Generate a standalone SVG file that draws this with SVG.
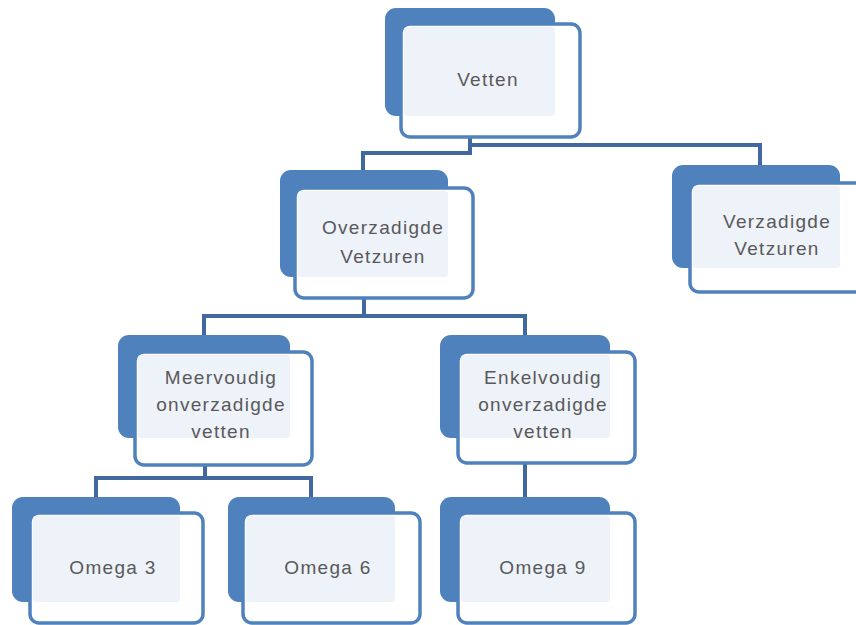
<svg xmlns="http://www.w3.org/2000/svg" width="856" height="625" viewBox="0 0 856 625">
<style>
.back{fill:#4F81BD;}
.front{fill:#FFFFFF;stroke:#4F81BD;stroke-width:3.5;}
.light{fill:#EEF2F9;}
.lbl{font-family:"Liberation Sans",Arial,sans-serif;font-size:19px;letter-spacing:1.3px;fill:#595959;text-anchor:middle;}
.conn{fill:none;stroke:#41699F;stroke-width:4;}
</style>
<rect width="856" height="625" fill="#FFFFFF"/>
<g id="connectors">
<path class="conn" d="M470 137 V153 H363 V170"/>
<path class="conn" d="M470 145 H760 V165"/>
<path class="conn" d="M364 298 V316 H204 V335"/>
<path class="conn" d="M364 316 H525 V335"/>
<path class="conn" d="M205 465 V478 H96 V497"/>
<path class="conn" d="M205 478 H311 V497"/>
<path class="conn" d="M525 463 V497"/>
</g>
<g id="vetten">
<rect class="back" x="385" y="8" width="170" height="108" rx="11"/>
<rect class="front" x="401" y="24" width="179" height="113" rx="9"/>
<rect class="light" x="404" y="27" width="151" height="89" rx="3"/>
<text class="lbl" x="488" y="86">Vetten</text>
</g>
<g id="overzadigde">
<rect class="back" x="280" y="170" width="168" height="107" rx="11"/>
<rect class="front" x="295" y="188" width="178" height="110" rx="9"/>
<rect class="light" x="298" y="191" width="150" height="86" rx="3"/>
<text class="lbl" x="383" y="234">Overzadigde</text>
<text class="lbl" x="383" y="263">Vetzuren</text>
</g>
<g id="verzadigde">
<rect class="back" x="672" y="165" width="168" height="103" rx="11"/>
<rect class="front" x="690" y="183" width="180" height="109" rx="9"/>
<rect class="light" x="693" y="186" width="147" height="82" rx="3"/>
<text class="lbl" x="777" y="228">Verzadigde</text>
<text class="lbl" x="777" y="255">Vetzuren</text>
</g>
<g id="meervoudig">
<rect class="back" x="118" y="335" width="172" height="103" rx="11"/>
<rect class="front" x="135" y="352" width="177" height="113" rx="9"/>
<rect class="light" x="138" y="355" width="152" height="83" rx="3"/>
<text class="lbl" x="221" y="384">Meervoudig</text>
<text class="lbl" x="221" y="411">onverzadigde</text>
<text class="lbl" x="221" y="438">vetten</text>
</g>
<g id="enkelvoudig">
<rect class="back" x="440" y="335" width="170" height="103" rx="11"/>
<rect class="front" x="458" y="352" width="177" height="111" rx="9"/>
<rect class="light" x="461" y="355" width="149" height="83" rx="3"/>
<text class="lbl" x="543" y="384">Enkelvoudig</text>
<text class="lbl" x="543" y="411">onverzadigde</text>
<text class="lbl" x="543" y="438">vetten</text>
</g>
<g id="omega3">
<rect class="back" x="12" y="497" width="168" height="105" rx="11"/>
<rect class="front" x="30" y="513" width="173" height="110" rx="9"/>
<rect class="light" x="33" y="516" width="147" height="86" rx="3"/>
<text class="lbl" x="113" y="574">Omega 3</text>
</g>
<g id="omega6">
<rect class="back" x="228" y="497" width="167" height="105" rx="11"/>
<rect class="front" x="243" y="513" width="177" height="110" rx="9"/>
<rect class="light" x="246" y="516" width="149" height="86" rx="3"/>
<text class="lbl" x="328" y="574">Omega 6</text>
</g>
<g id="omega9">
<rect class="back" x="440" y="497" width="170" height="105" rx="11"/>
<rect class="front" x="458" y="513" width="177" height="110" rx="9"/>
<rect class="light" x="461" y="516" width="149" height="86" rx="3"/>
<text class="lbl" x="543" y="574">Omega 9</text>
</g>
</svg>
